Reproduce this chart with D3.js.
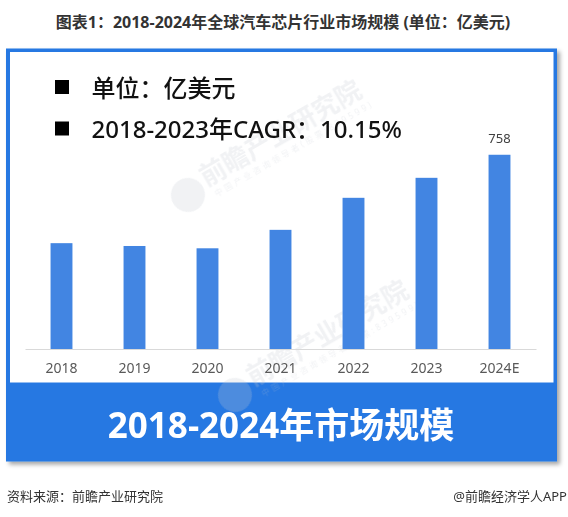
<!DOCTYPE html>
<html>
<head>
<meta charset="utf-8">
<script src="https://cdn.jsdelivr.net/npm/d3@7"></script>
<style>
  body { margin: 0; background: #fff; }
  svg { display: block; }
  text { font-family: "Noto Sans", "Noto Sans CJK SC", sans-serif; }
</style>
</head>
<body>
<div id="chart"></div>
<script>
// chart data
const years = ['2018', '2019', '2020', '2021', '2022', '2023', '2024E'];
const marketSize = [413, 402, 393, 465, 590, 668, 758];
const labelledYears = ['2024E'];
const legendLines = ['单位：亿美元', '2018-2023年CAGR：10.15%'];
const chartTitle = '图表1：2018-2024年全球汽车芯片行业市场规模 (单位：亿美元)';
const bannerText = '2018-2024年市场规模';
const sourceText = '资料来源：前瞻产业研究院';
const creditText = '@前瞻经济学人APP';
const watermarkText = '前瞻产业研究院';
const watermarkSub = '中国产业咨询领导者(股票:839599)';

const width = 568,
    height = 517;

// watermark anchors (logo centres), only the ones fully inside the picture
const watermarkSpots = [[188, 195], [235, 395]];

const rows = years.map(function (year, i) {
    return { year: year, value: marketSize[i] };
});

const svg = d3.select('#chart')
    .append('svg')
    .attr('width', width)
    .attr('height', height);

//drop shadow of the framed box
const shadow = svg.append('defs')
    .append('filter')
    .attr('id', 'shadow')
    .attr('x', '-5%').attr('y', '-5%')
    .attr('width', '110%').attr('height', '110%');

shadow.append('feDropShadow')
    .attr('dx', 3)
    .attr('dy', 3)
    .attr('stdDeviation', 2)
    .attr('flood-color', '#000')
    .attr('flood-opacity', 0.35);

//title
svg.append('text')
    .attr('x', 283)
    .attr('y', 22)
    .attr('text-anchor', 'middle')
    .attr('dominant-baseline', 'central')
    .style('font-size', '16px')
    .style('font-weight', 'bold')
    .attr('fill', '#333')
    .text(chartTitle);

//blue frame and white panel
svg.append('rect')
    .attr('x', 6)
    .attr('y', 48.5)
    .attr('width', 551)
    .attr('height', 413)
    .attr('fill', '#2778e2')
    .attr('filter', 'url(#shadow)');

svg.append('rect')
    .attr('x', 10)
    .attr('y', 52)
    .attr('width', 543.5)
    .attr('height', 330.5)
    .attr('fill', '#fff');

//faint watermarks
const marks = svg.append('g')
    .attr('opacity', 0.25);

watermarkSpots.forEach(function (spot) {

    let mark = marks.append('g')
        .attr('transform', 'translate(' + spot[0] + ',' + spot[1] + ') rotate(-30)');

    mark.append('circle')
        .attr('r', 17)
        .attr('fill', '#c5cad3');

    mark.append('text')
        .attr('x', 20)
        .attr('y', 2)
        .style('font-size', '26px')
        .style('font-weight', 'bold')
        .attr('fill', '#c5cad3')
        .text(watermarkText);

    mark.append('text')
        .attr('x', 24)
        .attr('y', 16)
        .style('font-size', '8px')
        .style('letter-spacing', '3px')
        .attr('fill', '#c5cad3')
        .text(watermarkSub);
})

//legend lines
legendLines.forEach(function (line, i) {

    let cy = 87 + i * 41.5;

    svg.append('rect')
        .attr('x', 55)
        .attr('y', cy - 7)
        .attr('width', 14)
        .attr('height', 14)
        .attr('fill', '#000');

    svg.append('text')
        .attr('x', 91.5)
        .attr('y', cy)
        .attr('dominant-baseline', 'central')
        .style('font-size', '24px')
        .style('font-weight', 500)
        .attr('fill', '#111')
        .text(line);
})

//scales
const x = d3.scaleBand()
    .domain(years)
    .range([25, 536])
    .paddingInner(0.7)
    .paddingOuter(0.35);

const y = d3.scaleLinear()
    .domain([0, 800])
    .range([349, 144]);

//bars
svg.append('g')
    .selectAll('rect')
    .data(rows)
    .join('rect')
    .attr('x', function (d) { return x(d.year); })
    .attr('y', function (d) { return y(d.value); })
    .attr('width', x.bandwidth())
    .attr('height', function (d) { return y(0) - y(d.value); })
    .attr('fill', '#4285e2');

//x axis
const axis = svg.append('g')
    .attr('transform', 'translate(0,' + y(0) + ')')
    .call(d3.axisBottom(x).tickSize(0).tickSizeOuter(0).tickPadding(14));

axis.select('.domain')
    .attr('stroke', '#d9d9d9')
    .attr('stroke-width', 1);

axis.selectAll('text')
    .style('font-size', '14px')
    .attr('fill', '#595959');

//value label on the forecast bar
svg.append('g')
    .selectAll('text')
    .data(rows.filter(function (d) { return labelledYears.includes(d.year); }))
    .join('text')
    .attr('x', function (d) { return x(d.year) + x.bandwidth() / 2; })
    .attr('y', function (d) { return y(d.value) - 17; })
    .attr('text-anchor', 'middle')
    .attr('dominant-baseline', 'central')
    .style('font-size', '13px')
    .attr('fill', '#404040')
    .text(function (d) { return d.value; });

//banner caption
svg.append('text')
    .attr('x', 281)
    .attr('y', 424)
    .attr('text-anchor', 'middle')
    .attr('dominant-baseline', 'central')
    .style('font-size', '35px')
    .style('font-weight', 'bold')
    .attr('fill', '#fff')
    .text(bannerText);

//footer
svg.append('text')
    .attr('x', 7)
    .attr('y', 496)
    .attr('dominant-baseline', 'central')
    .style('font-size', '13px')
    .attr('fill', '#333')
    .text(sourceText);

svg.append('text')
    .attr('x', 567)
    .attr('y', 496)
    .attr('text-anchor', 'end')
    .attr('dominant-baseline', 'central')
    .style('font-size', '13px')
    .attr('fill', '#333')
    .text(creditText);
</script>
</body>
</html>
